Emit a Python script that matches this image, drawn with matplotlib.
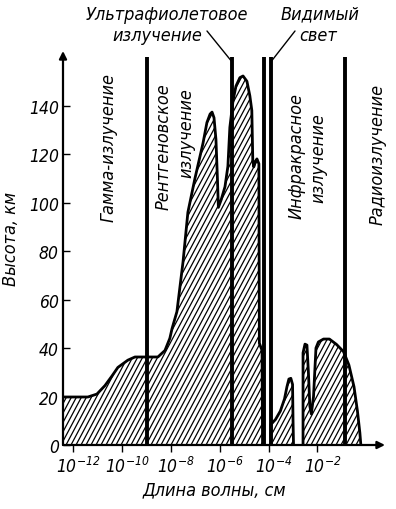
import numpy as np
import matplotlib
matplotlib.use("Agg")
import matplotlib.pyplot as plt
from matplotlib.collections import LineCollection
import matplotlib.ticker as mticker
import matplotlib.transforms as mtransforms

# ===================== DATA =====================
# log10 of wavelength (cm) and height (km) for the three shaded zones
zone1_logwl = [-12.43, -11.41, -11.04, -10.71, -10.42, -10.18, -9.77, -9.48, -8.54, -8.25,
               -8.05, -7.96, -7.76, -7.51, -7.31, -7.02, -6.69, -6.53, -6.40, -6.32,
               -6.24, -6.16, -6.10, -6.06, -5.95, -5.79, -5.67, -5.59, -5.46, -5.34,
               -5.18, -5.05, -4.89, -4.77, -4.69, -4.65, -4.61, -4.54, -4.48, -4.40,
               -4.38, -4.27, -4.25]
zone1_km = [19.8, 19.8, 21, 24.5, 28.5, 32, 35, 36.3, 36.3, 39,
            44, 48, 55, 75.5, 96, 110, 124.5, 133, 136.5, 137.3,
            135, 126, 110, 98, 101, 106.5, 115, 131, 142, 148,
            151.5, 152.2, 150, 144, 138, 117.5, 114.7, 117, 118, 116,
            42, 39, 0]

zone2_logwl = [-3.91, -3.91, -3.72, -3.52, -3.35, -3.25, -3.17, -3.09, -3.02, -3.00, -2.98]
zone2_km = [0, 8.5, 10.5, 14, 19, 24, 27.2, 27.5, 25, 10, 0]

zone3_logwl = [-2.59, -2.59, -2.51, -2.43, -2.37, -2.31, -2.25, -2.16, -2.06, -1.96,
               -1.75, -1.51, -1.22, -0.93, -0.71, -0.50, -0.36, -0.26, -0.22]
zone3_km = [0, 38, 41.6, 41.2, 30, 16, 12.8, 20, 40, 42.5,
            43.7, 43.7, 41.5, 38.5, 33, 24, 14, 5, 0]

# band boundaries (gamma|X, X|UV, visible, visible, IR|radio)
boundary_logwl = [-8.99, -5.50, -4.19, -3.91, -0.87]
boundary_top_km = 160

xtick_exp = [-12, -10, -8, -6, -4, -2]
ytick_km = [0, 20, 40, 60, 80, 100, 120, 140]

# ===================== STYLE =====================
plt.rcParams["font.family"] = "DejaVu Sans"
plt.rcParams["font.style"] = "italic"
plt.rcParams["font.stretch"] = "condensed"
plt.rcParams["mathtext.fontset"] = "dejavusans"
plt.rcParams["mathtext.default"] = "it"

W, H = 396, 510
fig = plt.figure(figsize=(W / 100, H / 100), dpi=100)


def fx(px):
    return px / W


def fy(py):
    return 1 - py / H


ax = fig.add_axes([fx(63), fy(446), (385 - 63) / W, (446 - 52) / H])
ax.set_xscale("log")
ax.set_xlim(10 ** -12.43, 10 ** 0.77)
ax.set_ylim(0, 162.5)

for s in ax.spines.values():
    s.set_visible(False)

# axes with arrows
for tip in [(1, 0), (0, 1)]:
    ax.annotate("", xy=tip, xytext=(0, 0), xycoords="axes fraction",
                arrowprops=dict(arrowstyle="-|>", lw=1.6, color="black", mutation_scale=11,
                                shrinkA=0, shrinkB=0))

# ===================== SHADED ZONES =====================
axw, axh = 385 - 63, 446 - 52
slope = np.tan(np.radians(62)) * axw / axh
step = 5.0 / axw
hatch_segs = [[(c, 0), (c + 1 / slope, 1)] for c in np.arange(-1, 1.05, step)]

for lw_, km_ in [(zone1_logwl, zone1_km), (zone2_logwl, zone2_km), (zone3_logwl, zone3_km)]:
    x = 10.0 ** np.array(lw_)
    poly = ax.fill_between(x, 0, km_, facecolor="white", edgecolor="none", zorder=2)
    lc = LineCollection(hatch_segs, transform=ax.transAxes, colors="black",
                        linewidths=0.9, zorder=2.2)
    ax.add_collection(lc)
    lc.set_clip_path(poly.get_paths()[0], ax.transData)
    ax.plot(x, km_, color="black", lw=2.0, zorder=2.5, solid_joinstyle="round")

# band boundaries
for b in boundary_logwl:
    ax.plot([10 ** b, 10 ** b], [0, boundary_top_km], color="black", lw=2.8, zorder=3,
            solid_capstyle="butt")

# ===================== TICKS =====================
ax.set_xticks([10.0 ** e for e in xtick_exp])
ax.set_xticklabels([r"$10^{%d}$" % e for e in xtick_exp], fontsize=12.5)
ax.xaxis.set_minor_locator(mticker.NullLocator())
ax.tick_params(axis="x", direction="out", length=5, width=1, pad=3)
for lab in ax.get_xticklabels():
    lab.set_transform(lab.get_transform() +
                      mtransforms.ScaledTranslation(5 / 100, 0, fig.dpi_scale_trans))

ax.set_yticks(ytick_km)
ax.set_yticklabels([str(v) for v in ytick_km], fontsize=12.5)
ax.tick_params(axis="y", direction="in", length=5, width=1, pad=3)

# ===================== LABELS =====================
fs = 13
fig.text(fx(11), fy(239), "Высота, км", rotation=90, ha="center", va="center", fontsize=fs)
fig.text(fx(214), fy(490), "Длина волны, см", ha="center", va="center", fontsize=fs)

fig.text(fx(108.5), fy(147.5), "Гамма-излучение", rotation=90, ha="center", va="center", fontsize=fs)
fig.text(fx(163.5), fy(83), "Рентгеновское", rotation=90, ha="center", va="top", fontsize=fs)
fig.text(fx(186.5), fy(88), "излучение", rotation=90, ha="center", va="top", fontsize=fs)
fig.text(fx(296.5), fy(156), "Инфракрасное", rotation=90, ha="center", va="center", fontsize=fs)
fig.text(fx(318.5), fy(158.5), "излучение", rotation=90, ha="center", va="center", fontsize=fs)
fig.text(fx(378), fy(154), "Радиоизлучение", rotation=90, ha="center", va="center", fontsize=fs)

fig.text(fx(166.5), fy(14.5), "Ультрафиолетовое", ha="center", va="center", fontsize=fs)
fig.text(fx(157), fy(36), "излучение", ha="center", va="center", fontsize=fs)
fig.text(fx(320), fy(14.5), "Видимый", ha="center", va="center", fontsize=fs)
fig.text(fx(318.5), fy(36), "свет", ha="center", va="center", fontsize=fs)

# leader lines
ax.annotate("", xy=(10 ** boundary_logwl[1], 158), xytext=(fx(207), fy(32)),
            textcoords="figure fraction",
            arrowprops=dict(arrowstyle="-", lw=1, color="black", shrinkA=0, shrinkB=0))
ax.annotate("", xy=(10 ** boundary_logwl[3], 158), xytext=(fx(295), fy(32)),
            textcoords="figure fraction",
            arrowprops=dict(arrowstyle="-", lw=1, color="black", shrinkA=0, shrinkB=0))

fig.savefig("out.png", dpi=100)
